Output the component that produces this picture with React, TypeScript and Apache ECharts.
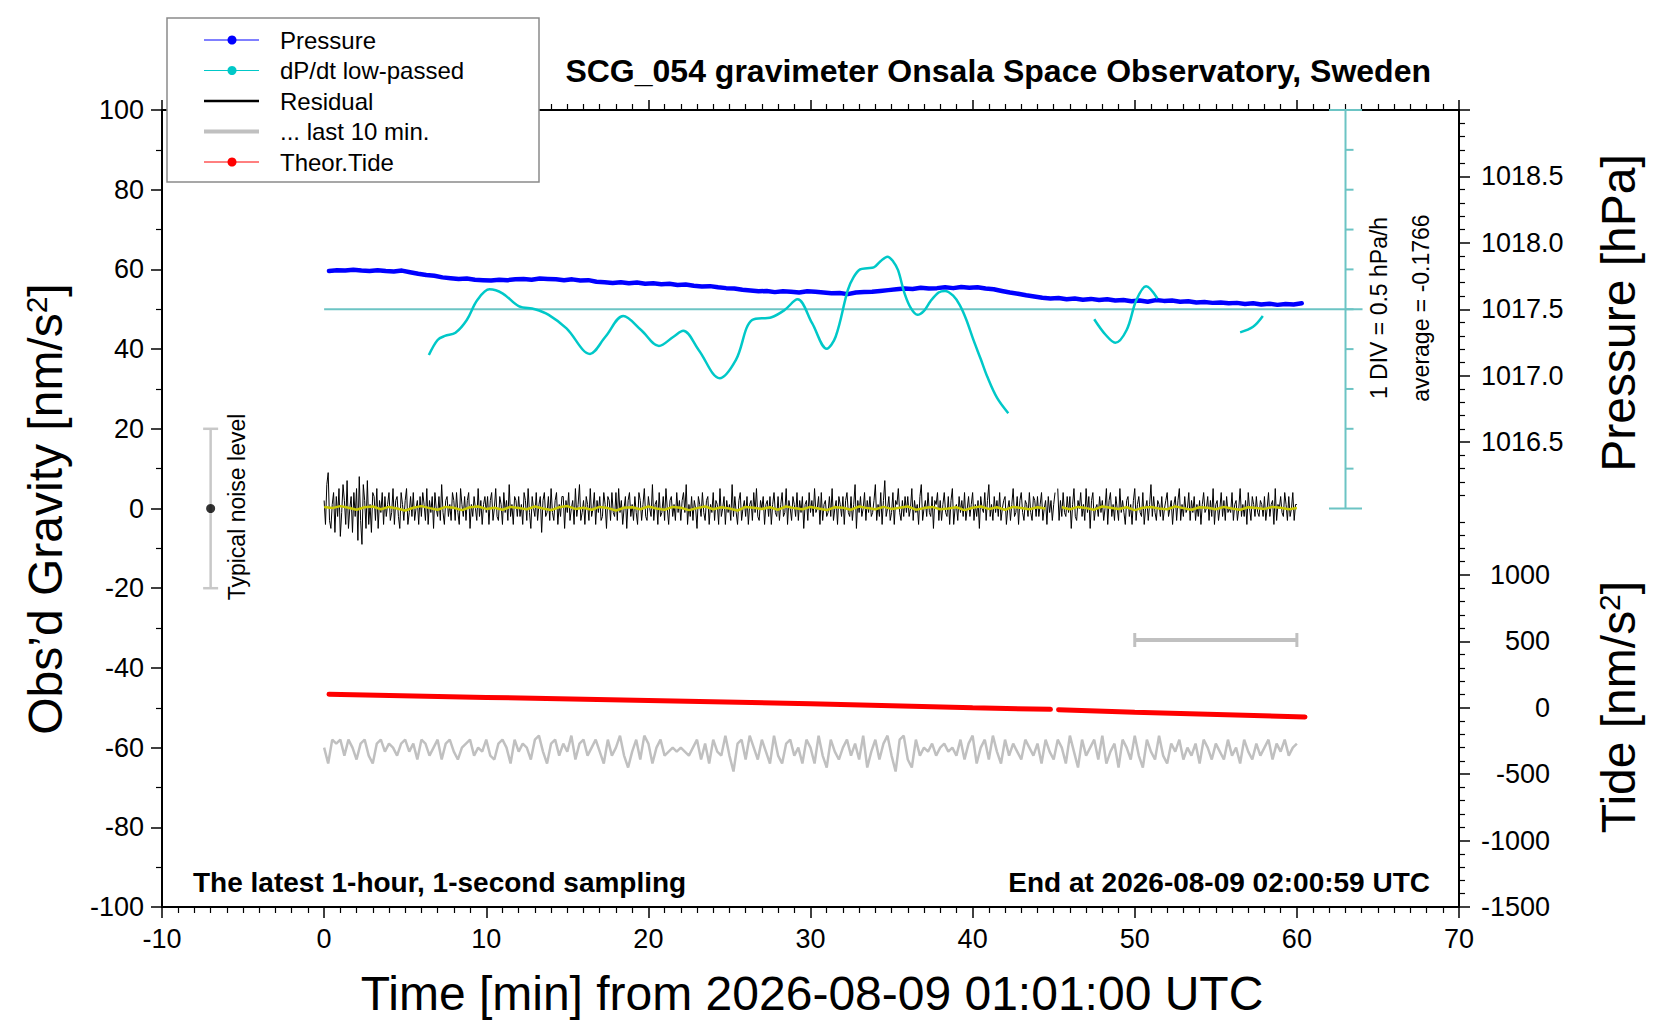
import React, { useEffect, useRef } from "react";
import * as echarts from "echarts";

const FONT = "'Liberation Sans', Arial, Helvetica, sans-serif";

// ---------------- axis ticks / labels ----------------
const xMin = -10;
const xMax = 70;
const yMin = -100;
const yMax = 100;
const pressureRange = [1013, 1019];
const pressureMajorTicks = [1016.5, 1017.0, 1017.5, 1018.0, 1018.5, 1019.0];
const pressureLabels = [1016.5, 1017.0, 1017.5, 1018.0, 1018.5];
const tideRange = [-1500, 4500];
const tideMajorTicks = [-1500, -1000, -500, 0, 500, 1000];
const tideLabels = [-1500, -1000, -500, 0, 500, 1000];

// ---------------- data ----------------
// pressure (plotted in left-axis units), one value per 30 s from 0.3 min
const pressureStart = 0.3;
const pressureRows = [
  [59.6, 59.8, 59.7, 59.9, 59.7, 59.6, 59.8, 59.6, 59.5, 59.7],
  [59.3, 58.9, 58.6, 58.4, 58.0, 57.8, 57.6, 57.7, 57.4, 57.3],
  [57.2, 57.4, 57.3, 57.5, 57.6, 57.4, 57.7, 57.6, 57.5, 57.3],
  [57.5, 57.2, 57.3, 56.9, 56.8, 56.6, 56.8, 56.5, 56.7, 56.4],
  [56.5, 56.3, 56.4, 56.1, 56.2, 55.9, 55.7, 55.8, 55.5, 55.3],
  [55.2, 54.9, 54.7, 54.5, 54.6, 54.3, 54.5, 54.4, 54.2, 54.5],
  [54.4, 54.2, 54.0, 54.1, 53.8, 54.2, 54.3, 54.4, 54.6, 54.8],
  [55.0, 55.2, 55.1, 55.4, 55.2, 55.3, 55.5, 55.3, 55.6, 55.4],
  [55.5, 55.2, 55.0, 54.6, 54.2, 53.9, 53.5, 53.2, 52.9, 52.7],
  [52.8, 52.5, 52.7, 52.4, 52.6, 52.3, 52.5, 52.2, 52.3, 52.0],
  [52.2, 51.9, 52.3, 52.1, 52.2, 51.9, 52.0, 51.7, 51.8, 51.6],
  [51.7, 51.5, 51.6, 51.3, 51.5, 51.2, 51.4, 51.1, 51.3, 51.2],
  [51.5],
];

const dpdtSeg1 = [[6.46, 38.5], [7.0, 42.3], [7.45, 43.3], [8.1, 44.1], [8.8, 47.3], [9.45, 52.3], [10.2, 55.0], [11.0, 54.0], [12.0, 50.8], [13.0, 50.0], [13.85, 48.6], [14.95, 45.2], [16.4, 38.8], [17.35, 43.1], [18.45, 48.3], [19.55, 44.8], [20.65, 40.8], [21.55, 43.1], [22.15, 44.6], [23.1, 39.8], [24.4, 32.7], [25.4, 37.3], [26.4, 47.3], [27.6, 48.0], [28.4, 49.8], [29.2, 52.5], [30.1, 46.5], [31.0, 40.1], [31.55, 43.1], [32.3, 54.8], [32.65, 58.0], [33.06, 60.0], [33.5, 60.3], [33.9, 60.5], [34.3, 62.0], [34.75, 63.2], [35.1, 62.0], [35.4, 59.8], [35.8, 54.0], [36.2, 50.2], [36.6, 48.6], [37.0, 49.6], [37.4, 52.0], [37.9, 54.2], [38.3, 54.6], [38.8, 53.4], [39.2, 51.1], [39.6, 47.5], [40.05, 42.3], [40.5, 37.5], [40.9, 33.1], [41.5, 27.8], [42.2, 23.9]];
const dpdtSeg2 = [[47.5, 47.5], [48.2, 43.6], [48.8, 41.6], [49.5, 44.8], [50.1, 52.3], [50.7, 55.8], [51.4, 52.7]];
const dpdtSeg3 = [[56.5, 44.2], [57.3, 45.6], [57.9, 48.3]];

const dpdtBaseline = 50;
const dpdtScaleX = 63;
const dpdtScaleTicks = [0, 10, 20, 30, 40, 50, 60, 70, 80, 90, 100];
const dpdtLineSpan = [0, 64.05];

// residual, one value per 5 s from 0 to 60 min
const residualRows = [
  [2, -4, 6, 9, -3, -5, 1, 4, -6, 3, -2, 5, -7, -1, 6, 2, -4, 7, -5, 0, 3, -6, 4, -2],
  [5, -8, 8, -3, -9, 6, 2, -5, 7, -4, 1, -6, 4, 3, -3, 5, -5, 2, -1, 4, -4, 3, -2, 1],
  [4, -3, -1, 5, -4, 2, 3, -2, -5, 4, 1, -3, 2, 5, -4, -1, 3, -2, 4, -3, 0, 2, -4, 3],
  [-2, 4, 1, -3, 5, -4, 2, -1, 3, -5, 4, 0, -2, 3, -3, 6, -1, -4, 2, 3, -2, 1, -3, 4],
  [2, -3, 4, -1, -4, 5, 1, -2, 3, -3, 2, 4, -5, 1, -2, 3, 0, -3, 5, -2, 2, -4, 1, 3],
  [-1, 3, -4, 2, 4, -3, 0, 5, -2, -3, 3, 1, -4, 4, -1, 2, -3, 6, -2, 1, -4, 3, 2, -2],
  [3, -2, 1, -4, 4, 2, -3, 5, -1, -5, 3, 0, -2, 4, -3, 1, 3, -6, 2, 4, -2, -1, 3, -3],
  [5, -1, -3, 2, 4, -4, 1, -2, 3, 3, -5, 2, -1, 4, -3, 0, 2, -4, 5, -2, 1, 6, -3, -1],
  [2, -4, 3, 1, -3, 5, -2, 0, 4, -4, 2, -1, 3, -3, -2, 4, 1, -5, 3, 2, -3, 4, -1, -2],
  [4, -3, 5, -1, 2, -4, 0, 3, -5, 2, 4, -2, 1, -3, 3, -1, -4, 4, 2, -3, 1, 5, -2, -3],
  [3, 0, -2, 6, -3, 1, 2, -4, 4, -2, -1, 3, -3, 5, 0, -4, 2, 3, -2, 1, -3, 4, -1, 2],
  [-3, 2, 4, -1, 6, -4, 1, -2, 3, -3, 2, 0, -5, 3, 1, -2, 4, -1, -3, 2, 3, -4, 1, -1],
  [4, -3, 2, 1, -4, 5, -2, 0, 3, -4, 2, -1, 1, -3, 6, -2, 3, -1, -4, 2, 4, -3, 0, 2],
  [-2, 3, -4, 1, 2, -3, 4, -1, 5, -2, -3, 2, 0, 3, -4, 1, 2, -2, 3, -4, 1, 4, -1, -2],
  [3, -3, 1, 4, -2, -1, 5, -4, 2, 0, -3, 3, 1, -2, 4, -3, 2, -1, 3, -5, 1, 2, -3, 4],
  [-1, 2, -2, 5, -1, 0, 3, -4, 4, -3, 1, 2, -2, -1, 3, -2, 5, -3, 0, 2, -4, 3, 1, -2],
  [3, -4, 2, 4, -1, -2, 3, -3, 1, 6, -5, 2, -1, 3, -2, 0, 4, -3, 2, -1, 3, -2, -1, 2],
  [6, -3, 1, -2, 4, -4, 2, 7, -2, 0, 3, -3, -1, 4, -4, 2, 1, 5, -1, -3, 2, -2, 3, -1],
  [3, -2, 0, 5, -3, 2, -1, 1, -4, 3, 6, -3, 0, 2, -2, 4, -1, -2, 3, -5, 2, 1, 4, -3],
  [2, -3, 1, 4, -1, -2, 3, -4, 2, 5, -4, 0, 1, -3, 3, -1, 2, -2, 4, -3, 0, 3, -2, 1],
  [4, -3, 1, -2, 2, -5, 3, 0, -1, 4, -3, 2, 6, -2, 1, -3, 3, -1, 2, -2, 4, -3, 0, 2],
  [3, -4, 0, 2, -3, 1, 5, -2, -1, 3, -4, 2, 4, -1, -3, 2, 1, -2, 4, -1, -3, 3, 2, -2],
  [3, -2, 1, 4, -3, 0, 2, -4, 3, -1, 2, -3, 1, 4, null, 5, -3, 2, -2, 4, -1, -2, 3, -1],
  [3, -5, 1, 5, -2, -3, 2, 0, 4, -2, 1, -3, 5, -1, 3, -5, 2, 4, -3, 0, 1, -2, 3, -1],
  [2, -3, 0, 5, -4, 2, 4, -2, 1, -3, 3, 0, -3, 5, -1, 2, -1, -4, 2, 3, -2, 1, -4, 2],
  [5, -3, 1, 3, -1, -2, 4, -4, 0, 2, -3, 1, 6, -2, 3, -1, -3, 2, 1, -2, 3, -3, 0, 2],
  [4, -2, 0, 2, -4, 1, 3, -3, 2, 5, -3, 1, -2, 3, -1, 0, 4, -3, 2, -1, 3, -3, 1, -2],
  [2, -4, 1, 4, -1, 0, 3, -3, 2, -2, 5, -4, 1, 2, -3, 0, 4, -2, 2, -3, 3, -1, 0, -1],
  [4, -3, 1, 2, -3, 0, 5, -2, 1, -2, 2, -4, 4, 0, -3, 3, 1, -2, 3, -1, -2, 2, 1, -2],
  [3, -3, 0, 4, -2, 1, 2, -4, 5, -3, 1, 0, 3, -1, -2, 4, 1, -3, 3, -2, 0, 4, -3, 1],
  [1],
];

// smoothed residual, one value per 30 s
const smoothRows = [
  [0.4, 0.1, 0.6, 0.2, -0.3, 0.3, 0.5, -0.2, 0.4, 0.0],
  [-0.5, 0.2, 0.6, 0.1, -0.3, 0.4, 0.2, -0.4, 0.3, 0.5],
  [-0.1, 0.2, -0.3, 0.4, 0.1, -0.2, 0.5, 0.0, -0.4, 0.3],
  [0.6, -0.1, 0.2, -0.3, 0.4, 0.1, -0.5, 0.2, 0.3, -0.2],
  [0.5, 0.0, -0.3, 0.4, 0.2, -0.4, 0.1, 0.5, -0.2, 0.3],
  [0.0, -0.5, 0.4, 0.2, -0.1, 0.3, -0.3, 0.5, 0.1, -0.2],
  [0.4, 0.0, -0.4, 0.3, 0.2, -0.3, 0.5, 0.1, -0.2, 0.4],
  [-0.1, 0.2, 0.5, -0.3, 0.1, 0.4, -0.2, 0.0, 0.3, -0.4],
  [0.2, 0.5, -0.1, 0.3, -0.3, 0.4, 0.1, -0.2, 0.3, 0.0],
  [null, 0.3, -0.2, 0.4, 0.1, -0.3, 0.5, 0.2, -0.1, 0.3],
  [-0.4, 0.2, 0.4, 0.0, -0.2, 0.5, 0.1, -0.3, 0.3, 0.2],
  [-0.2, 0.4, 0.0, -0.3, 0.3, 0.1, -0.1, 0.4, 0.2, -0.2],
  [0.1],
];

// "last 10 min" trace, one value per 15 s across the 60-min frame
const lastTenRows = [
  [-60, -64, -58, -59, -58, -62, -58, -60, -63, -59, -58, -62, -64, -59, -58, -61, -59, -60, -62, -59],
  [-58, -61, -59, -63, -58, -59, -62, -60, -58, -63, -59, -58, -61, -63, -60, -59, -58, -62, -60, -61],
  [-58, -62, -63, -59, -58, -60, -64, -58, -61, -59, -60, -63, -58, -57, -61, -64, -59, -58, -62, -59],
  [-61, -57, -63, -59, -58, -62, -60, -58, -61, -64, -58, -62, -60, -57, -62, -65, -61, -58, -63, -57],
  [-59, -64, -60, -58, -62, -61, -60, -61, -60, -61, -62, -60, -58, -63, -59, -64, -58, -61, -62, -57],
  [-62, -66, -59, -58, -63, -57, -60, -63, -58, -61, -64, -57, -62, -64, -59, -58, -62, -60, -64, -58],
  [-60, -64, -57, -62, -65, -58, -61, -63, -60, -58, -62, -59, -63, -57, -65, -61, -58, -63, -59, -57],
  [-62, -66, -58, -57, -63, -65, -58, -62, -60, -61, -59, -62, -60, -59, -61, -60, -62, -58, -63, -59],
  [-57, -64, -60, -58, -63, -57, -61, -64, -58, -62, -59, -61, -63, -58, -60, -62, -59, -64, -58, -61],
  [-63, -58, -60, -64, -57, -61, -65, -58, -62, -60, -58, -63, -57, -64, -61, -59, -65, -58, -60, -63],
  [-57, -62, -65, -58, -61, -63, -57, -62, -64, -59, -61, -58, -63, -60, -62, -59, -64, -58, -60, -63],
  [-59, -61, -63, -58, -62, -60, -64, -58, -61, -63, -59, -62, -60, -58, -63, -59, -61, -58, -62, -60],
  [-59],
];

const tideMin = [0.3, 10, 20, 30, 40, 44.8, 45.3, 50, 60.5];
const tideVal = [-46.6, -47.4, -48.2, -49.0, -50.0, -50.4, -50.5, -51.1, -52.3];
const tideGapAfter = 44.8;

const tenMinBar = { from: 50, to: 60, level: -33 };
const noiseBar = { x: -7, low: -20, high: 20, centre: 0 };

const legendLabels = ["Pressure", "dP/dt low-passed", "Residual", "... last 10 min.", "Theor.Tide"];
const legendColors = ["#0000ff", "#00c8c8", "#000000", "#c0c0c0", "#ff0000"];
const legendDot = [true, true, false, false, true];
const legendWidth = [1, 1, 2.5, 4, 1];

const titleText = "SCG_054 gravimeter Onsala Space Observatory, Sweden";
const leftNote = "The latest 1-hour, 1-second sampling";
const rightNote = "End at 2026-08-09 02:00:59 UTC";
const xTitle = "Time [min] from 2026-08-09 01:01:00 UTC";

// ---------------- helpers ----------------
function regular(rows: (number | null)[][], start: number, end: number) {
  const flat = rows.flat();
  const step = (end - start) / (flat.length - 1);
  return flat.map((v, i) => [start + i * step, v === null ? "-" : v]);
}

export default function App() {
  const ref = useRef<HTMLDivElement>(null);

  useEffect(() => {
    document.body.style.margin = "0";
    document.body.style.overflow = "hidden";
    if (!ref.current) return;
    const chart = echarts.init(ref.current, undefined, { renderer: "svg" });

    const pressureData = regular(pressureRows, pressureStart, pressureStart + 60);
    const dpdtData = [...dpdtSeg1, [44, "-"], ...dpdtSeg2, [54, "-"], ...dpdtSeg3];
    const residualData = regular(residualRows, 0, 60);
    const smoothData = regular(smoothRows, 0, 60);
    const lastTenData = regular(lastTenRows, 0, 60);
    const tideData: any[] = [];
    tideMin.forEach((t, i) => {
      tideData.push([t, tideVal[i]]);
      if (t === tideGapAfter) tideData.push([45.05, "-"]);
    });

    const pressureMinor: number[] = [];
    for (let k = 10161; k <= 10189; k++) if (k % 5 !== 0) pressureMinor.push(k / 10);
    const tideMinor: number[] = [];
    for (let k = -1400; k <= 1400; k += 100) if (k % 500 !== 0) tideMinor.push(k);

    const labelStyle = { fontSize: 27, color: "#000", fontFamily: FONT };
    const lineBlack = { color: "#000", width: 2 };

    const xAxisBase = {
      type: "value",
      min: xMin,
      max: xMax,
      interval: 10,
      splitLine: { show: false },
      minorSplitLine: { show: false },
      axisLine: { show: true, onZero: false, lineStyle: lineBlack },
      axisTick: { show: true, inside: false, length: 11, lineStyle: { color: "#000", width: 1.5 } },
      minorTick: { show: true, splitNumber: 10, length: 6, lineStyle: { color: "#000", width: 1.2 } },
    };

    const rightAxisBase = {
      type: "value",
      position: "right",
      splitLine: { show: false },
      axisLine: { show: false, onZero: false },
      alignTicks: false,
    };

    const option: any = {
      animation: false,
      backgroundColor: "#fff",
      grid: {
        left: 162,
        right: 201,
        top: 110,
        bottom: 113,
        show: true,
        borderColor: "#000",
        borderWidth: 2,
        backgroundColor: "transparent",
      },
      xAxis: [
        { ...xAxisBase, position: "bottom", axisLabel: { ...labelStyle, margin: 18 } },
        {
          ...xAxisBase,
          position: "top",
          axisLabel: { show: false },
          axisTick: { show: true, inside: false, length: 10, lineStyle: { color: "#000", width: 1.5 } },
        },
      ],
      yAxis: [
        {
          type: "value",
          position: "left",
          min: yMin,
          max: yMax,
          interval: 20,
          splitLine: { show: false },
          minorSplitLine: { show: false },
          axisLine: { show: true, onZero: false, lineStyle: lineBlack },
          axisTick: { show: true, length: 11, lineStyle: { color: "#000", width: 1.5 } },
          minorTick: { show: true, splitNumber: 2, length: 6, lineStyle: { color: "#000", width: 1.2 } },
          axisLabel: { ...labelStyle, margin: 18 },
        },
        {
          ...rightAxisBase,
          min: pressureRange[0],
          max: pressureRange[1],
          interval: 0.5,
          axisTick: { show: true, length: 11, customValues: pressureMajorTicks, lineStyle: { color: "#000", width: 1.5 } },
          axisLabel: { ...labelStyle, margin: 22, customValues: pressureLabels, formatter: (v: number) => v.toFixed(1) },
        },
        {
          ...rightAxisBase,
          min: pressureRange[0],
          max: pressureRange[1],
          interval: 0.5,
          axisTick: { show: true, length: 6, customValues: pressureMinor, lineStyle: { color: "#000", width: 1.2 } },
          axisLabel: { show: false },
        },
        {
          ...rightAxisBase,
          min: tideRange[0],
          max: tideRange[1],
          interval: 500,
          axisTick: { show: true, length: 11, customValues: tideMajorTicks, lineStyle: { color: "#000", width: 1.5 } },
          axisLabel: { ...labelStyle, margin: 91, align: "right", customValues: tideLabels, formatter: (v: number) => String(v) },
        },
        {
          ...rightAxisBase,
          min: tideRange[0],
          max: tideRange[1],
          interval: 500,
          axisTick: { show: true, length: 6, customValues: tideMinor, lineStyle: { color: "#000", width: 1.2 } },
          axisLabel: { show: false },
        },
      ],
      series: [
        {
          type: "custom",
          xAxisIndex: 0,
          yAxisIndex: 0,
          silent: true,
          clip: false,
          z: 1,
          data: [[dpdtScaleX, dpdtBaseline]],
          renderItem: (_p: any, api: any) => {
            const st = { stroke: "#6cc4c4", lineWidth: 2, fill: "none" };
            const lo = api.coord([dpdtScaleX, dpdtScaleTicks[0]]);
            const hi = api.coord([dpdtScaleX, dpdtScaleTicks[dpdtScaleTicks.length - 1]]);
            const a = api.coord([dpdtLineSpan[0], dpdtBaseline]);
            const b = api.coord([dpdtLineSpan[1], dpdtBaseline]);
            const children: any[] = [
              { type: "line", shape: { x1: lo[0], y1: lo[1], x2: hi[0], y2: hi[1] }, style: st },
              { type: "line", shape: { x1: lo[0] - 16.5, y1: lo[1], x2: lo[0] + 16.5, y2: lo[1] }, style: st },
              { type: "line", shape: { x1: hi[0] - 16.5, y1: hi[1], x2: hi[0] + 16.5, y2: hi[1] }, style: st },
              { type: "line", shape: { x1: a[0], y1: a[1], x2: b[0], y2: b[1] }, style: st },
            ];
            dpdtScaleTicks.slice(1, -1).forEach((v) => {
              const p = api.coord([dpdtScaleX, v]);
              children.push({ type: "line", shape: { x1: p[0], y1: p[1], x2: p[0] + 8, y2: p[1] }, style: st });
            });
            return { type: "group", children };
          },
        },
        {
          type: "line",
          name: "dP/dt",
          data: dpdtData,
          smooth: 0.35,
          showSymbol: false,
          connectNulls: false,
          lineStyle: { color: "#00c8c8", width: 2.5 },
          z: 3,
        },
        {
          type: "line",
          name: "Pressure",
          data: pressureData,
          showSymbol: false,
          lineStyle: { color: "#0000ff", width: 4.5, cap: "round", join: "round" },
          z: 2,
        },
        {
          type: "line",
          name: "Residual",
          data: residualData,
          showSymbol: false,
          connectNulls: false,
          lineStyle: { color: "#000", width: 1 },
          z: 4,
        },
        {
          type: "line",
          name: "Smoothed",
          data: smoothData,
          showSymbol: false,
          connectNulls: false,
          lineStyle: { color: "#c8c800", width: 2.5 },
          z: 5,
        },
        {
          type: "line",
          name: "Theor.Tide",
          data: tideData,
          showSymbol: false,
          connectNulls: false,
          lineStyle: { color: "#ff0000", width: 5, cap: "round" },
          z: 4,
        },
        {
          type: "line",
          name: "last 10 min",
          data: lastTenData,
          showSymbol: false,
          lineStyle: { color: "#c0c0c0", width: 2.5 },
          z: 3,
        },
        {
          type: "custom",
          silent: true,
          clip: false,
          z: 4,
          data: [[tenMinBar.from, tenMinBar.level]],
          renderItem: (_p: any, api: any) => {
            const st = { stroke: "#c0c0c0", lineWidth: 4, fill: "none" };
            const a = api.coord([tenMinBar.from, tenMinBar.level]);
            const b = api.coord([tenMinBar.to, tenMinBar.level]);
            return {
              type: "group",
              children: [
                { type: "line", shape: { x1: a[0], y1: a[1], x2: b[0], y2: b[1] }, style: st },
                { type: "line", shape: { x1: a[0], y1: a[1] - 7, x2: a[0], y2: a[1] + 7 }, style: { ...st, lineWidth: 3 } },
                { type: "line", shape: { x1: b[0], y1: b[1] - 7, x2: b[0], y2: b[1] + 7 }, style: { ...st, lineWidth: 3 } },
              ],
            };
          },
        },
        {
          type: "custom",
          silent: true,
          clip: false,
          z: 4,
          data: [[noiseBar.x, noiseBar.centre]],
          renderItem: (_p: any, api: any) => {
            const st = { stroke: "#c8c8c8", lineWidth: 2.5, fill: "none" };
            const lo = api.coord([noiseBar.x, noiseBar.low]);
            const hi = api.coord([noiseBar.x, noiseBar.high]);
            return {
              type: "group",
              children: [
                { type: "line", shape: { x1: lo[0], y1: lo[1], x2: hi[0], y2: hi[1] }, style: st },
                { type: "line", shape: { x1: lo[0] - 7.5, y1: lo[1], x2: lo[0] + 7.5, y2: lo[1] }, style: st },
                { type: "line", shape: { x1: hi[0] - 7.5, y1: hi[1], x2: hi[0] + 7.5, y2: hi[1] }, style: st },
              ],
            };
          },
        },
        {
          type: "scatter",
          data: [[noiseBar.x, noiseBar.centre]],
          symbolSize: 9,
          itemStyle: { color: "#000" },
          silent: true,
          z: 6,
        },
      ],
      graphic: [] as any[],
    };

    const g = option.graphic;
    const txt = (x: number, y: number, text: string, size: number, extra: any = {}, rotation = 0) => ({
      type: "text",
      x,
      y,
      rotation,
      z: 100,
      style: { text, fontFamily: FONT, fontSize: size, fill: "#000", align: "center", verticalAlign: "middle", ...extra },
    });
    g.push(txt(1431, 71, titleText, 32, { fontWeight: "bold", align: "right" }));
    g.push(txt(193, 882, leftNote, 28, { fontWeight: "bold", align: "left" }));
    g.push(txt(1430, 882, rightNote, 28, { fontWeight: "bold", align: "right" }));
    g.push(txt(812, 993, xTitle, 48));
    const supRich = {
      a: { fontFamily: FONT, fontSize: 48, fill: "#000", color: "#000" },
      s: { fontFamily: FONT, fontSize: 30, fill: "#000", color: "#000", verticalAlign: "top" },
    };
    g.push({
      type: "text",
      x: 45,
      y: 509,
      rotation: Math.PI / 2,
      z: 100,
      style: { text: "{a|Obs\u2019d Gravity [nm/s}{s|2}{a|]}", rich: supRich, align: "center", verticalAlign: "middle" },
    });
    g.push(txt(1618, 313, "Pressure [hPa]", 48, {}, Math.PI / 2));
    g.push({
      type: "text",
      x: 1618,
      y: 707,
      rotation: Math.PI / 2,
      z: 100,
      style: { text: "{a|Tide [nm/s}{s|2}{a|]}", rich: supRich, align: "center", verticalAlign: "middle" },
    });
    g.push(txt(237, 507, "Typical noise level", 23, {}, Math.PI / 2));
    g.push(txt(1379, 308, "1 DIV = 0.5 hPa/h", 23, {}, Math.PI / 2));
    g.push(txt(1421, 308, "average = -0.1766", 23, {}, Math.PI / 2));

    // legend box
    g.push({
      type: "rect",
      z: 100,
      shape: { x: 167, y: 18, width: 372, height: 164 },
      style: { fill: "#fff", stroke: "#8a8a8a", lineWidth: 1.5 },
    });
    legendLabels.forEach((label, i) => {
      const y = 40 + i * 30.5;
      g.push({
        type: "line",
        z: 101,
        shape: { x1: 204, y1: y, x2: 259, y2: y },
        style: { stroke: legendColors[i], lineWidth: legendWidth[i] },
      });
      if (legendDot[i]) {
        g.push({ type: "circle", z: 102, shape: { cx: 232, cy: y, r: 4.5 }, style: { fill: legendColors[i] } });
      }
      g.push({ ...txt(280, y, label, 24, { align: "left" }), z: 102 });
    });

    chart.setOption(option);
    return () => chart.dispose();
  }, []);

  return <div ref={ref} style={{ width: 1660, height: 1020 }} />;
}
